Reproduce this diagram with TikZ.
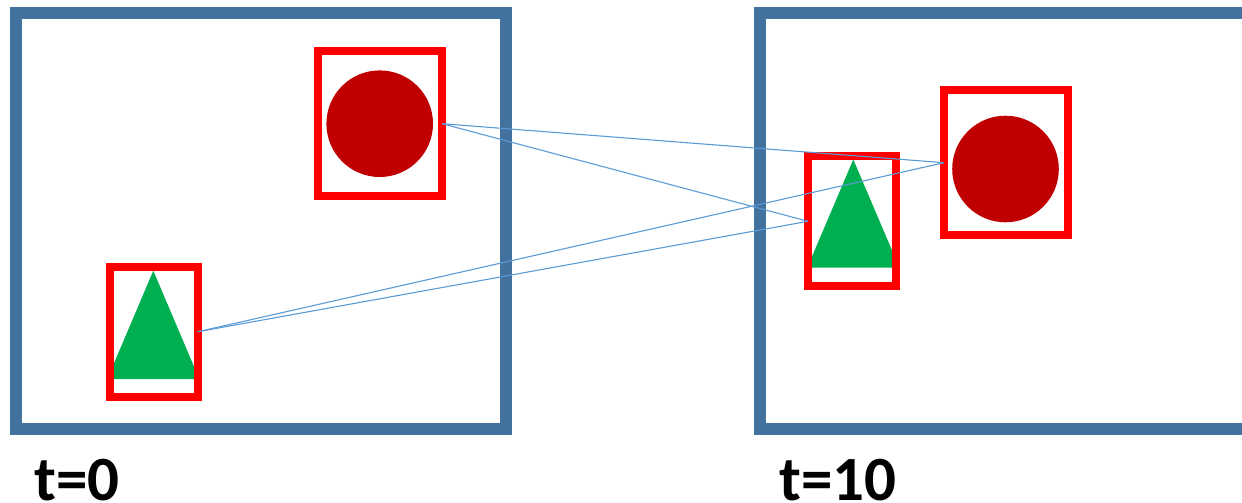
\documentclass[tikz,border=0pt]{standalone}
\usepackage{fontspec}
\setmainfont{Carlito}
\definecolor{framecol}{RGB}{68,114,158}
\definecolor{boxred}{RGB}{255,0,0}
\definecolor{ballred}{RGB}{192,0,0}
\definecolor{conegreen}{RGB}{0,176,80}
\definecolor{linkblue}{RGB}{91,155,213}
\begin{document}
\begin{tikzpicture}[x=1pt,y=-1pt,
  frame/.style={draw=framecol,line width=12pt},
  objbox/.style={draw=boxred,line width=8pt,outer sep=0pt,inner sep=0pt,rectangle},
  ballbox/.style={objbox,minimum width=124pt,minimum height=145pt},
  conebox/.style={objbox,minimum width=88pt,minimum height=130pt},
  ball/.style={fill=ballred},
  cone/.style={fill=conegreen},
  link/.style={draw=linkblue,line width=1.1pt},
  timelabel/.style={anchor=base west,inner sep=0pt,font=\bfseries\fontsize{63}{70}\selectfont}]
\useasboundingbox (0,0) rectangle (1242,503);
\clip (0,0) rectangle (1242,503);

% scene frames
\draw[frame] (16,13.3) rectangle (506.3,429);
\draw[frame] (760.3,13.3) rectangle (1262,429);

% objects at t=0
\fill[cone] (153.3,270.7) -- (107.3,379) -- (199.3,379) -- cycle;
\fill[ball] (379.7,123.7) circle (53.3);
% objects at t=10
\fill[cone] (853.3,159.5) -- (807.3,267.5) -- (899.3,267.5) -- cycle;
\fill[ball] (1005.5,169) circle (53.3);

% bounding boxes
\node[ballbox] (ball0) at (380,123.7) {};
\node[conebox] (cone0) at (153.5,331.8) {};
\node[conebox] (cone10) at (852,221.3) {};
\node[ballbox] (ball10) at (1005.9,162.7) {};

% candidate associations between frames
\draw[link] (ball0.east) -- (ball10.west);
\draw[link] (ball0.east) -- (cone10.west);
\draw[link] (cone0.east) -- (ball10.west);
\draw[link] (cone0.east) -- (cone10.west);

% time stamps
\node[timelabel] (t0) at (34.3,500) {t=0};
\node[timelabel] (t10) at (779.5,500) {t=10};
\end{tikzpicture}
\end{document}
